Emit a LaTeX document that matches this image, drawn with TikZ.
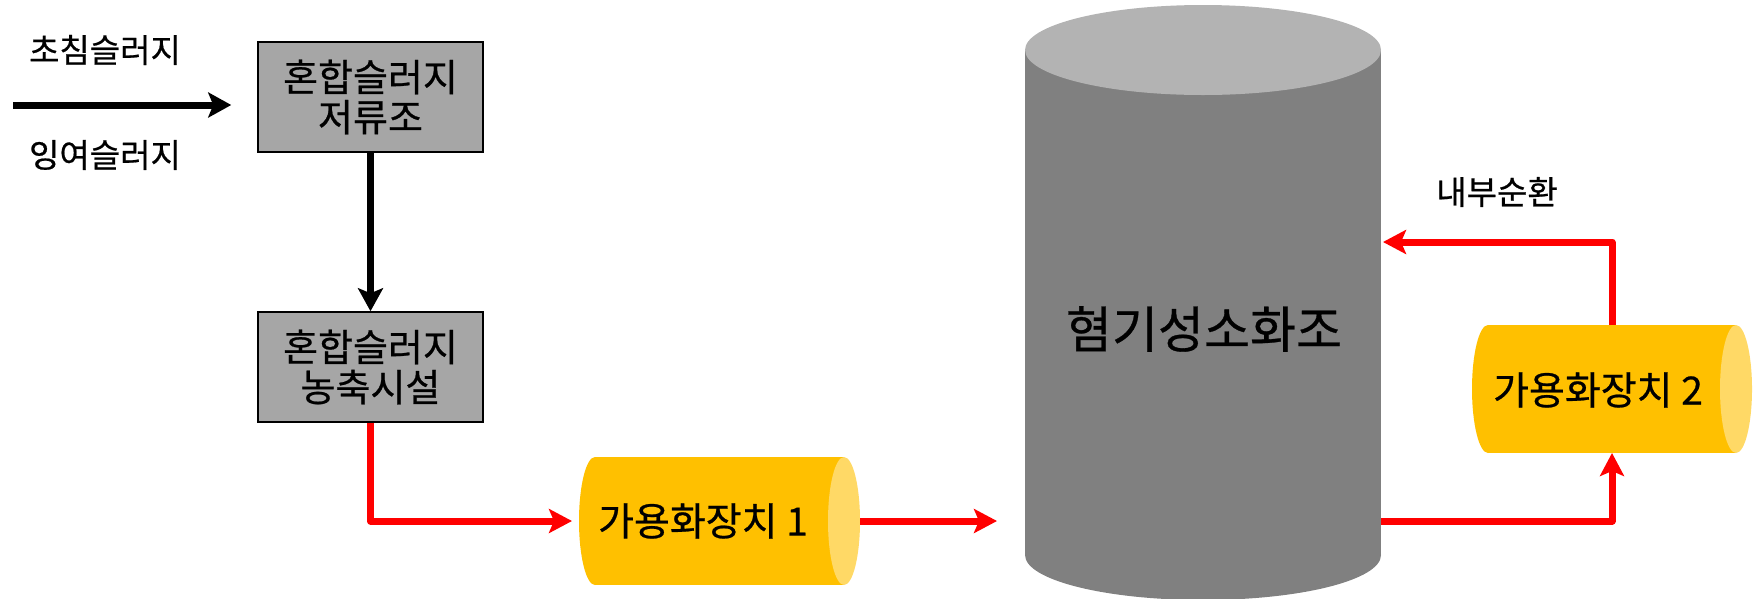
\documentclass[tikz,border=0pt]{standalone}
\usepackage{fontspec}
\setmainfont{Noto Sans CJK KR}[FakeBold=0.6]
\usetikzlibrary{arrows.meta}
\definecolor{boxgray}{HTML}{A6A6A6}
\definecolor{tankbody}{HTML}{808080}
\definecolor{tanktop}{HTML}{B3B3B3}
\definecolor{cylbody}{HTML}{FFC000}
\definecolor{cylend}{HTML}{FFD966}
\definecolor{flowred}{HTML}{FF0000}
\tikzset{
  proc/.style={draw=black, line width=1.5pt, fill=boxgray, minimum width=225pt,
    minimum height=110pt, align=center, inner sep=0pt,
    font=\fontsize{38}{40}\selectfont},
  lbl/.style={inner sep=0pt, font=\fontsize{33}{36}\selectfont},
  cyltext/.style={inner sep=0pt, font=\fontsize{39}{40}\selectfont},
  extent/.style={inner sep=0pt, outer sep=0pt, draw=none},
  blkflow/.style={line width=7pt, draw=black, -{Stealth[length=23pt,width=25pt,inset=5pt]}},
  redflow/.style={line width=7pt, draw=flowred, line join=round,
    -{Stealth[length=23pt,width=24pt,inset=5pt]}}
}
\begin{document}
\begin{tikzpicture}[x=1pt,y=-1pt]
\useasboundingbox (0,0) rectangle (1760,598);

% big digester tank
\fill[tankbody] (1025,50) rectangle (1381,555);
\fill[tankbody] (1203,555) ellipse [x radius=178, y radius=45];
\fill[tanktop] (1203,50) ellipse [x radius=178, y radius=45];
\node[extent, minimum width=356pt, minimum height=595pt] (tank) at (1203,302) {};
\node[inner sep=0pt, font=\fontsize{50}{52}\selectfont] (tankt) at (1204,329) {혐기성소화조};

% solubilization unit 1
\fill[cylbody] (595,457) rectangle (844,585);
\fill[cylbody] (595,521) ellipse [x radius=16, y radius=64];
\fill[cylend] (844,521) ellipse [x radius=16, y radius=64];
\node[extent, minimum width=281pt, minimum height=128pt] (cyl1) at (719.5,521) {};
\node[cyltext] (cyl1t) at (703,521) {가용화장치 1};

% solubilization unit 2
\fill[cylbody] (1488,325) rectangle (1736,453);
\fill[cylbody] (1488,389) ellipse [x radius=16, y radius=64];
\fill[cylend] (1736,389) ellipse [x radius=16, y radius=64];
\node[extent, minimum width=280pt, minimum height=128pt] (cyl2) at (1612,389) {};
\node[cyltext] (cyl2t) at (1598,390) {가용화장치 2};

% process boxes
\node[proc] (b1) at (370.5,97) {혼합슬러지\\저류조};
\node[proc] (b2) at (370.5,367) {혼합슬러지\\농축시설};

% labels
\node[lbl] (t1) at (105,50) {초침슬러지};
\node[lbl] (t2) at (105,155) {잉여슬러지};
\node[lbl] (t3) at (1497,192) {내부순환};

% black flows
\coordinate (in) at (13,105);
\draw[blkflow, shorten >=26pt] (in) -- (in -| b1.west);
\draw[blkflow] (b1.south) -- (b2.north);

% red flows
\draw[redflow, shorten >=7pt] (b2.south) |- (cyl1.west);
\draw[redflow, shorten >=28pt] (cyl1.east) -- (cyl1.east -| tank.west);
\draw[redflow] (cyl1.east -| tank.east) -| (cyl2.south);
\coordinate (loop) at (1612,242);
\draw[redflow, shorten >=2pt] (cyl2.north) -- (loop) -- (loop -| tank.east);
\end{tikzpicture}
\end{document}
